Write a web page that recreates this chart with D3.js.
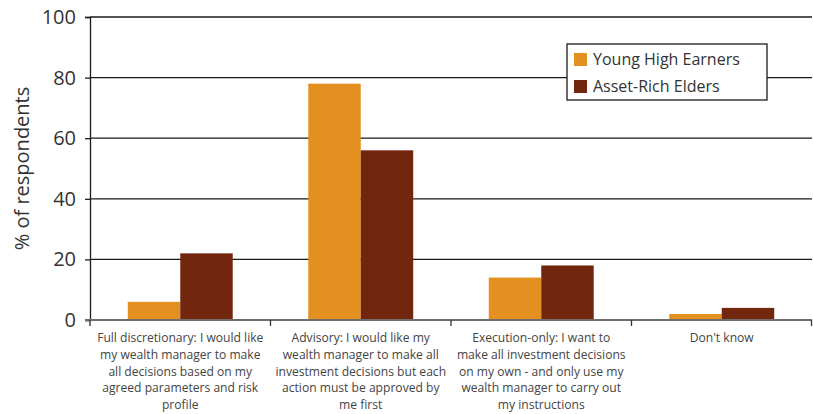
<!DOCTYPE html>
<html>
<head>
<meta charset="utf-8">
<script src="https://cdn.jsdelivr.net/npm/d3@7"></script>
<style>
  html, body { margin: 0; padding: 0; background: #fff; }
  svg { display: block; }
</style>
</head>
<body>
<svg id="chart" width="813" height="414"></svg>
<script>
// Survey categories (each label split into its printed lines)
const categories = [
  "Full discretionary",
  "Advisory",
  "Execution-only",
  "Don't know"
];
const categoryLines = [
  ["Full discretionary: I would like", "my wealth manager to make", "all decisions based on my", "agreed parameters and risk", "profile"],
  ["Advisory: I would like my", "wealth manager to make all", "investment decisions but each", "action must be approved by", "me first"],
  ["Execution-only: I want to", "make all investment decisions", "on my own - and only use my", "wealth manager to carry out", "my instructions"],
  ["Don't know"]
];
const seriesNames = ["Young High Earners", "Asset-Rich Elders"];
const youngHighEarners = [6, 78, 14, 2];
const assetRichElders = [22, 56, 18, 4];
const yTicks = [0, 20, 40, 60, 80, 100];
const colors = ["#E39020", "#73260E"];

const svg = d3.select("#chart");
const margin = { left: 90, right: 1, top: 17, bottom: 94 };
const W = 813, H = 414;
const plotW = W - margin.left - margin.right;
const plotH = H - margin.top - margin.bottom;
const fontFamily = "'Open Sans', 'DejaVu Sans', sans-serif";

const g = svg.append("g").attr("transform", `translate(${margin.left},${margin.top})`);

const x = d3.scaleBand().domain(categories).range([0, plotW]).paddingInner(0).paddingOuter(0);
const xInner = d3.scaleBand().domain(seriesNames).range([0, x.bandwidth()]).paddingInner(0).paddingOuter(0.72);
const y = d3.scaleLinear().domain([0, 100]).range([plotH, 0]);

// Horizontal gridlines
g.append("g")
  .selectAll("line")
  .data(yTicks.filter(t => t > 0))
  .join("line")
  .attr("x1", 0).attr("x2", plotW)
  .attr("y1", d => y(d)).attr("y2", d => y(d))
  .attr("stroke", "#1a1a1a").attr("stroke-width", 1.3);

// Bars
const data = categories.map((c, i) => ({
  cat: c,
  vals: [
    { name: seriesNames[0], v: youngHighEarners[i] },
    { name: seriesNames[1], v: assetRichElders[i] }
  ]
}));

const groups = g.append("g").selectAll("g")
  .data(data).join("g")
  .attr("transform", d => `translate(${x(d.cat)},0)`);

groups.selectAll("rect")
  .data(d => d.vals)
  .join("rect")
  .attr("x", d => xInner(d.name))
  .attr("width", xInner.bandwidth())
  .attr("y", d => y(d.v))
  .attr("height", d => plotH - y(d.v))
  .attr("fill", (d, i) => colors[i]);

// Y axis
const yAxis = g.append("g")
  .call(d3.axisLeft(y).tickValues(yTicks).tickSize(5).tickPadding(9).tickFormat(d3.format("d")));
yAxis.select(".domain").attr("stroke", "#1a1a1a").attr("stroke-width", 1.3);
yAxis.selectAll(".tick line").attr("stroke", "#1a1a1a").attr("stroke-width", 1.3);
yAxis.selectAll(".tick text")
  .attr("font-family", fontFamily).attr("font-size", 20).attr("fill", "#333");

// X axis
const xAxis = g.append("g")
  .attr("transform", `translate(0,${plotH})`)
  .call(d3.axisBottom(x).tickSize(0).tickFormat(""));
xAxis.select(".domain").attr("stroke", "#6e6e6e").attr("stroke-width", 2)
  .attr("d", `M-5,0H${plotW}`);

// Category boundary ticks
g.append("g")
  .selectAll("line")
  .data(d3.range(categories.length + 1))
  .join("line")
  .attr("x1", i => i < categories.length ? x(categories[i]) : plotW - 0.5)
  .attr("x2", i => i < categories.length ? x(categories[i]) : plotW - 0.5)
  .attr("y1", plotH).attr("y2", plotH + 6)
  .attr("stroke", "#333").attr("stroke-width", 1.3);

// Category labels
const labels = g.append("g").selectAll("text")
  .data(categories).join("text")
  .attr("x", d => x(d) + x.bandwidth() / 2)
  .attr("y", plotH + 22)
  .attr("text-anchor", "middle")
  .attr("font-family", fontFamily)
  .attr("font-size", 12.1)
  .attr("fill", "#444");
labels.each(function(d, i) {
  d3.select(this).selectAll("tspan")
    .data(categoryLines[i]).join("tspan")
    .attr("x", x(d) + x.bandwidth() / 2)
    .attr("dy", (t, j) => j === 0 ? 0 : 16.8)
    .text(t => t);
});

// Y axis title
svg.append("text")
  .attr("transform", `translate(29,${margin.top + plotH / 2}) rotate(-90)`)
  .attr("text-anchor", "middle")
  .attr("font-family", fontFamily)
  .attr("font-size", 20)
  .attr("fill", "#333")
  .text("% of respondents");

// Legend
const legend = svg.append("g").attr("transform", "translate(567,44)");
legend.append("rect")
  .attr("width", 200).attr("height", 56)
  .attr("fill", "#fff").attr("stroke", "#1a1a1a").attr("stroke-width", 1.3);
seriesNames.forEach((name, i) => {
  const row = legend.append("g").attr("transform", `translate(7,${9 + i * 27})`);
  row.append("rect").attr("width", 13).attr("height", 13).attr("fill", colors[i]);
  row.append("text")
    .attr("x", 19).attr("y", 12)
    .attr("font-family", fontFamily)
    .attr("font-size", 16)
    .attr("fill", "#333")
    .text(name);
});
</script>
</body>
</html>
